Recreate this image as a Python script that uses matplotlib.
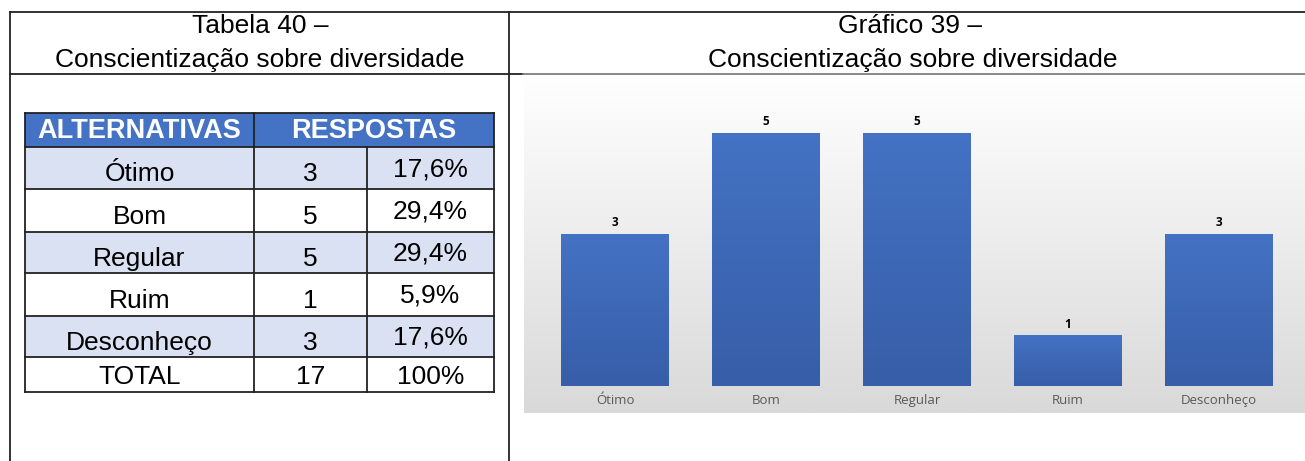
import numpy as np
import matplotlib.pyplot as plt
from matplotlib.colors import LinearSegmentedColormap

# Survey data
categorias = ['Ótimo', 'Bom', 'Regular', 'Ruim', 'Desconheço']
respostas = [3, 5, 5, 1, 3]
percentuais = ['17,6%', '29,4%', '29,4%', '5,9%', '17,6%']
total_resp = '17'
total_pct = '100%'

W, H = 1305, 461
fig = plt.figure(figsize=(W / 100, H / 100), dpi=100)

# full-figure axes in pixel units for frames, titles and table
base = fig.add_axes([0, 0, 1, 1])
base.set_xlim(0, W)
base.set_ylim(H, 0)
base.axis('off')

font = 'Liberation Sans'
dark = '#222222'

# outer frame
base.plot([10, W], [12, 12], color=dark, lw=1.3)
base.plot([10, 10], [12, H], color=dark, lw=1.3)
base.plot([509, 509], [12, H], color=dark, lw=1.3)
base.plot([10, 523], [74, 74], color=dark, lw=1.3)
base.plot([523, W], [74, 74], color='#7f7f7f', lw=1.3)

# titles
base.text(260, 26, 'Tabela 40 –', ha='center', va='center', fontsize=19, family=font)
base.text(260, 60, 'Conscientização sobre diversidade', ha='center', va='center',
          fontsize=19, family=font)
base.text(910, 26, 'Gráfico 39 –', ha='center', va='center', fontsize=19, family=font)
base.text(913, 60, 'Conscientização sobre diversidade', ha='center', va='center',
          fontsize=19, family=font)

# table
x0, x1, x2, x3 = 25, 254, 367, 494
row_tops = [113, 147, 189, 232, 273, 316, 357, 392]
hdr_blue = '#4472c4'
shade = '#d9e1f2'

base.fill_between([x0, x3], row_tops[0], row_tops[1], color=hdr_blue, lw=0)
for i in range(5):
    if i % 2 == 0:
        base.fill_between([x0, x3], row_tops[i + 1], row_tops[i + 2], color=shade, lw=0)

lw_t = 1.3
for y in row_tops:
    base.plot([x0, x3], [y, y], color=dark, lw=lw_t)
base.plot([x0, x0], [row_tops[0], row_tops[-1]], color=dark, lw=lw_t)
base.plot([x3, x3], [row_tops[0], row_tops[-1]], color=dark, lw=lw_t)
base.plot([x1, x1], [row_tops[0], row_tops[-1]], color=dark, lw=lw_t)
base.plot([x2, x2], [row_tops[1], row_tops[-1]], color=dark, lw=lw_t)

hy = (row_tops[0] + row_tops[1]) / 2 + 1
base.text((x0 + x1) / 2, hy, 'ALTERNATIVAS', ha='center', va='center', color='white',
          fontsize=19.5, fontweight='bold', family=font)
base.text((x1 + x3) / 2, hy, 'RESPOSTAS', ha='center', va='center', color='white',
          fontsize=19.5, fontweight='bold', family=font)

for i, (cat, n, pct) in enumerate(zip(categorias, respostas, percentuais)):
    cy = (row_tops[i + 1] + row_tops[i + 2]) / 2
    base.text((x0 + x1) / 2, cy + 6, cat, ha='center', va='center', fontsize=19, family=font)
    base.text((x1 + x2) / 2, cy + 6, str(n), ha='center', va='center', fontsize=19, family=font)
    base.text((x2 + x3) / 2, cy + 1, pct, ha='center', va='center', fontsize=19, family=font)

cy = (row_tops[-2] + row_tops[-1]) / 2 + 2
base.text((x0 + x1) / 2, cy, 'TOTAL', ha='center', va='center', fontsize=19, family=font)
base.text((x1 + x2) / 2, cy, total_resp, ha='center', va='center', fontsize=19, family=font)
base.text((x2 + x3) / 2, cy, total_pct, ha='center', va='center', fontsize=19, family=font)

# chart background: vertical gradient white -> light gray
cl, cr, ct, cb, plot_b = 524, 1305, 75, 413, 386
bg = fig.add_axes([cl / W, 1 - cb / H, (cr - cl) / W, (cb - ct) / H])
bg_cmap = LinearSegmentedColormap.from_list('bg', ['#ffffff', '#d9d9d9'])
bg.imshow(np.linspace(0, 1, 256).reshape(-1, 1), aspect='auto', cmap=bg_cmap,
          extent=[0, 1, 0, 1], origin='upper')
bg.axis('off')

# bar chart axes
ax = fig.add_axes([cl / W, 1 - plot_b / H, (cr - cl) / W, (plot_b - ct) / H])
ax.patch.set_alpha(0)
xpos = np.arange(len(categorias))
bars = ax.bar(xpos, respostas, width=0.715, color='none', edgecolor='none')

bar_cmap = LinearSegmentedColormap.from_list('bar', ['#4472c4', '#375ea8'])
grad = np.linspace(0, 1, 256).reshape(-1, 1)
for b in bars:
    x, w, h = b.get_x(), b.get_width(), b.get_height()
    im = ax.imshow(grad, aspect='auto', cmap=bar_cmap, origin='upper',
                   extent=[x, x + w, 0, h], zorder=2)
    im.set_clip_path(b)

ax.bar_label(bars, padding=3.5, fontsize=8.5, fontweight='bold', family='Open Sans',
             color='black')

ax.set_xticks(xpos)
ax.set_xticklabels(categorias, fontsize=9.5, family='Open Sans', color='#595959')
ax.tick_params(axis='x', length=0, pad=6)
ax.set_yticks([])
for s in ax.spines.values():
    s.set_visible(False)
ax.set_xlim(-0.603, 4.57)
ax.set_ylim(0, 6.146)

fig.savefig('out.png', dpi=100)
